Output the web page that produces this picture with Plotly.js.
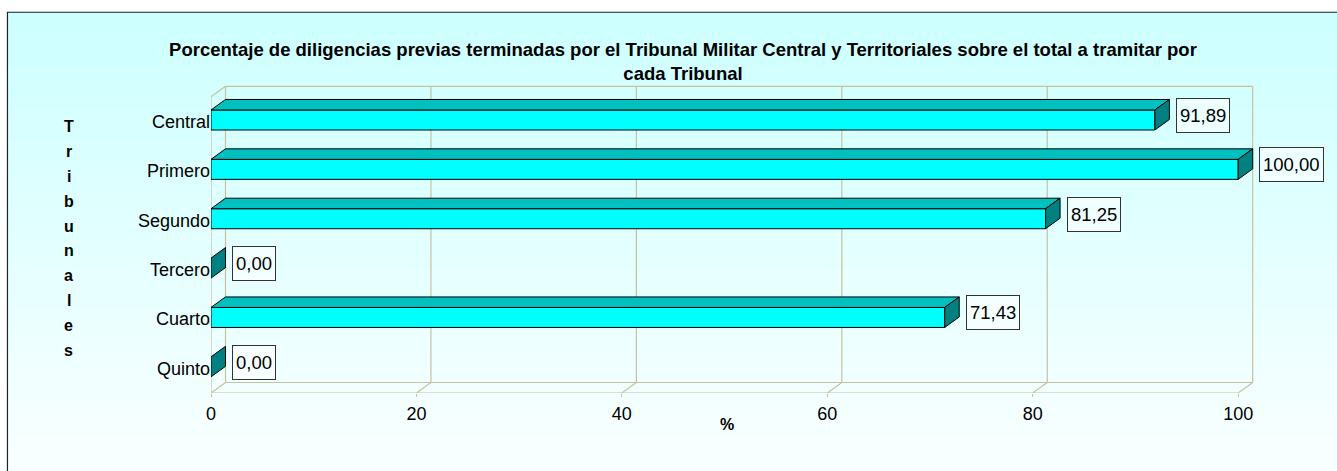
<!DOCTYPE html>
<html>
<head>
<meta charset="utf-8">
<script src="https://cdn.plot.ly/plotly-3.0.1.min.js"></script>
<style>html,body{margin:0;padding:0;background:#fff;}#chart{width:1337px;height:471px;}</style>
</head>
<body>
<div id="chart"></div>
<script>
// ---- data ----
const categories = ['Central', 'Primero', 'Segundo', 'Tercero', 'Cuarto', 'Quinto'];
const values = [91.89, 100.00, 81.25, 0.00, 71.43, 0.00];
const xTickValues = [0, 20, 40, 60, 80, 100];
const titleText = 'Porcentaje de diligencias previas terminadas por el Tribunal Militar Central y Territoriales sobre el total a tramitar por<br>cada Tribunal';
const yTitleText = 'Tribunales';
const xTitleText = '%';

// ---- geometry / style ----
const W = 1337, H = 471;
const L = 211, FT = 97, FB = 393, X100 = 1238;
const XMAX = 103;
const ppx = (X100 - L) / 100;
const R = W - L - XMAX * ppx;
const ppy = (FB - FT) / categories.length;
const EXT = 0.3;
const T = FT - EXT * ppy;
const B = H - FB;
const plotW = W - L - R, plotH = H - T - B;
const DX = 14.5 / ppx, DY = 10.5 / ppy;
const BW = 20 / ppy, BOFF = -BW / 2 - 1.5 / ppy;
const FONT = 'Liberation Sans, Arial, sans-serif';
const GRID = '#c6c2a0';
const idx = categories.map((c, i) => i);
const yTop = -0.5, yBot = categories.length - 0.5;

const pxX = p => (p - L) / plotW;
const pxY = p => 1 - (p - T) / plotH;

const shapes = [];
// background gradient
const N = 90, gy0 = 12, gy1 = H + 2;
for (let i = 0; i < N; i++) {
  const a = gy0 + (gy1 - gy0) * i / N, b = gy0 + (gy1 - gy0) * (i + 1) / N;
  const f = i / (N - 1);
  const r = Math.round(204 + (250 - 204) * f);
  shapes.push({type: 'rect', xref: 'paper', yref: 'paper', layer: 'below',
    x0: pxX(7), x1: pxX(W + 5), y0: pxY(a), y1: pxY(b + 0.5),
    fillcolor: `rgb(${r},255,255)`, line: {width: 0}});
}
// outer frame
shapes.push({type: 'rect', xref: 'paper', yref: 'paper', layer: 'below',
  x0: pxX(7.5), x1: pxX(W + 10), y0: pxY(12.5), y1: pxY(H + 10),
  line: {color: '#222', width: 1.2}});

function gline(x0, y0, x1, y1) {
  shapes.push({type: 'line', xref: 'x', yref: 'y', layer: 'below',
    x0, y0, x1, y1, line: {color: GRID, width: 1.2}});
}
// back wall
gline(DX, yTop - DY, 100 + DX, yTop - DY);
gline(DX, yBot - DY, 100 + DX, yBot - DY);
xTickValues.forEach(t => gline(t + DX, yTop - DY, t + DX, yBot - DY));
// left wall
gline(0, yTop, 0, yBot);
gline(0, yTop, DX, yTop - DY);
// floor
gline(0, yBot, 100, yBot);
xTickValues.forEach(t => gline(t, yBot, t + DX, yBot - DY));

// 3D faces of bars
function poly(pts, fill) {
  const d = 'M ' + pts.map(p => p[0] + ',' + p[1]).join(' L ') + ' Z';
  shapes.push({type: 'path', xref: 'x', yref: 'y', layer: 'above', path: d,
    fillcolor: fill, line: {color: '#000', width: 1}});
}
values.forEach((v, i) => {
  const yt = i + BOFF, yb = i + BOFF + BW;
  if (v > 0) poly([[0, yt], [v, yt], [v + DX, yt - DY], [DX, yt - DY]], '#00c0c0');
  poly([[v, yt], [v, yb], [v + DX, yb - DY], [v + DX, yt - DY]], '#008080');
});

const annotations = [];
values.forEach((v, i) => {
  annotations.push({x: v, y: i, xref: 'x', yref: 'y', xanchor: 'left', yanchor: 'middle',
    xshift: 21, yshift: 6, showarrow: false,
    text: v.toFixed(2).replace('.', ','),
    font: {family: FONT, size: 18.5, color: '#000'},
    bgcolor: 'rgba(255,255,255,0.55)', bordercolor: '#333', borderwidth: 1, borderpad: 3, height: 27});
});
yTitleText.split('').forEach((ch, i) => {
  annotations.push({x: pxX(69), y: pxY(127 + i * 24.8), xref: 'paper', yref: 'paper',
    xanchor: 'center', yanchor: 'middle', showarrow: false, text: '<b>' + ch + '</b>',
    font: {family: FONT, size: 16, color: '#000'}});
});
annotations.push({x: pxX(727), y: pxY(424), xref: 'paper', yref: 'paper',
  xanchor: 'center', yanchor: 'middle', showarrow: false, text: '<b>' + xTitleText + '</b>',
  font: {family: FONT, size: 16, color: '#000'}});

const trace = {
  type: 'bar', orientation: 'h', x: values, y: idx,
  width: BW, offset: BOFF,
  marker: {color: '#00ffff', line: {color: '#000', width: 1}},
  hoverinfo: 'x+y'
};

const layout = {
  width: W, height: H,
  margin: {l: L, r: R, t: T, b: B, pad: 0},
  paper_bgcolor: '#ffffff', plot_bgcolor: 'rgba(0,0,0,0)',
  showlegend: false,
  title: {text: '<b>' + titleText + '</b>', x: 683 / W, xanchor: 'center', xref: 'container',
    yref: 'container', y: 1 - 56 / H, yanchor: 'top',
    font: {family: FONT, size: 18.5, color: '#000'}},
  xaxis: {range: [0, XMAX], tickvals: xTickValues, ticktext: xTickValues.map(String),
    showgrid: false, zeroline: false, showline: false,
    ticks: 'outside', ticklen: 3, tickcolor: GRID, ticklabelstandoff: 1,
    tickfont: {family: FONT, size: 18, color: '#000'}, fixedrange: true},
  yaxis: {range: [yBot, yTop - EXT], tickvals: idx, ticktext: categories,
    showgrid: false, zeroline: false, showline: false, ticks: '',
    tickfont: {family: FONT, size: 18, color: '#000'}, fixedrange: true},
  shapes, annotations, bargap: 0
};

Plotly.newPlot('chart', [trace], layout, {displayModeBar: false, staticPlot: true});
</script>
</body>
</html>
